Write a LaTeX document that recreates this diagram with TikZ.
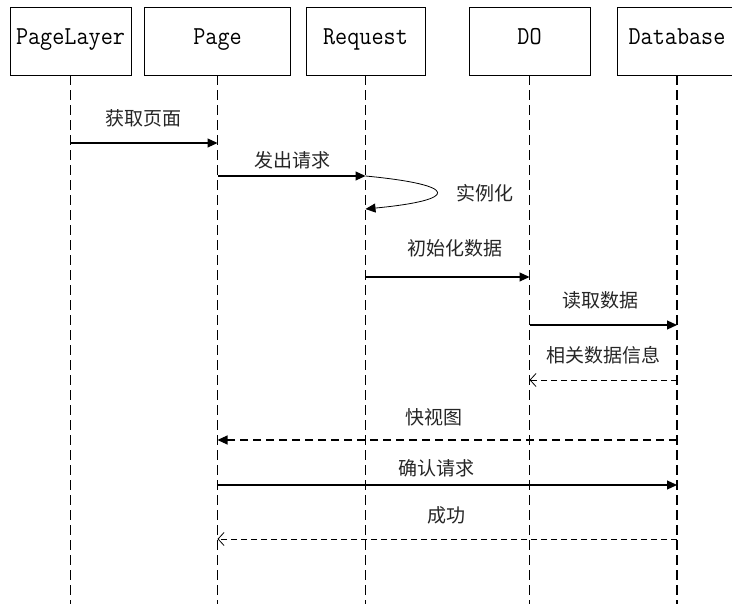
\documentclass[tikz,border=0pt]{standalone}
\usepackage{fontspec}
\newfontfamily\cjk{Noto Sans CJK SC}
\usetikzlibrary{arrows.meta}

\begin{document}
\begin{tikzpicture}[x=1pt,y=-1pt,
  actor/.style={draw, line width=0.8pt, minimum height=68pt, inner sep=0pt,
    text height=14pt, text depth=6pt,
    font=\ttfamily\fontsize{23.5}{23.5}\selectfont},
  lifeline/.style={line width=1.4pt, dash pattern=on 10pt off 5pt},
  call/.style={line width=1.1pt, -{Triangle[length=10pt,width=9pt]}},
  bigreply/.style={line width=1.1pt, dash pattern=on 8pt off 5pt,
    -{Triangle[length=10pt,width=9pt]}},
  reply/.style={line width=0.8pt, dash pattern=on 6pt off 4pt,
    -{Straight Barb[length=6pt,width=13pt]}},
  selfcall/.style={line width=0.8pt, -{Triangle[length=10pt,width=9pt]}},
  lbl/.style={font=\cjk\fontsize{19}{19}\selectfont, text=black!85, inner sep=0pt}
]
\useasboundingbox (0,0) rectangle (732,604);
\fill[white] (0,0) rectangle (732,604);

% participants
\node[actor, minimum width=121pt] (pl) at (70.5,41) {\scalebox{1}[1.1]{PageLayer}};
\node[actor, minimum width=146pt] (pg) at (217.5,41) {\scalebox{1}[1.1]{Page}};
\node[actor, minimum width=119pt] (rq) at (365.5,41) {\scalebox{1}[1.1]{Request}};
\node[actor, minimum width=121pt] (do) at (529.5,41) {\scalebox{1}[1.1]{DO}};
\node[actor, minimum width=120pt] (db) at (677,41) {\scalebox{1}[1.1]{Database}};

% lifeline ends
\coordinate (plE) at (70.5,604);
\coordinate (pgE) at (217.5,604);
\coordinate (rqE) at (365.5,604);
\coordinate (doE) at (529.5,604);
\coordinate (dbE) at (677,604);

\foreach \p in {pl,pg,rq,do,db}
  \draw[lifeline] (\p.south) -- (\p E);

% message anchor points on the lifelines
\coordinate (m1a) at (70.5,143);  \coordinate (m1b) at (217.5,143);
\coordinate (m2a) at (217.5,176); \coordinate (m2b) at (365.5,176);
\coordinate (m3b) at (365.5,209);
\coordinate (m4a) at (365.5,277); \coordinate (m4b) at (529.5,277);
\coordinate (m5a) at (529.5,325); \coordinate (m5b) at (677,325);
\coordinate (m6a) at (677,380);   \coordinate (m6b) at (529.5,380);
\coordinate (m7a) at (677,440);   \coordinate (m7b) at (217.5,440);
\coordinate (m8a) at (217.5,485); \coordinate (m8b) at (677,485);
\coordinate (m9a) at (677,539);   \coordinate (m9b) at (217.5,539);

% messages
\draw[call] (m1a) -- (m1b);
\node[lbl] (t1) at (143,118) {获取页面};

\draw[call] (m2a) -- (m2b);
\node[lbl] (t2) at (292,160) {发出请求};

\draw[selfcall] (m2b) .. controls (460,185) and (460,200) .. (m3b);
\node[lbl] (t3) at (485,193) {实例化};

\draw[call] (m4a) -- (m4b);
\node[lbl] (t4) at (455,248) {初始化数据};

\draw[call] (m5a) -- (m5b);
\node[lbl] (t5) at (600,300) {读取数据};

\draw[reply] (m6a) -- (m6b);
\node[lbl] (t6) at (603,355) {相关数据信息};

\draw[bigreply] (m7a) -- (m7b);
\node[lbl] (t7) at (434,417) {快视图};

\draw[call] (m8a) -- (m8b);
\node[lbl] (t8) at (436,468) {确认请求};

\draw[reply] (m9a) -- (m9b);
\node[lbl] (t9) at (446,515) {成功};
\end{tikzpicture}
\end{document}
